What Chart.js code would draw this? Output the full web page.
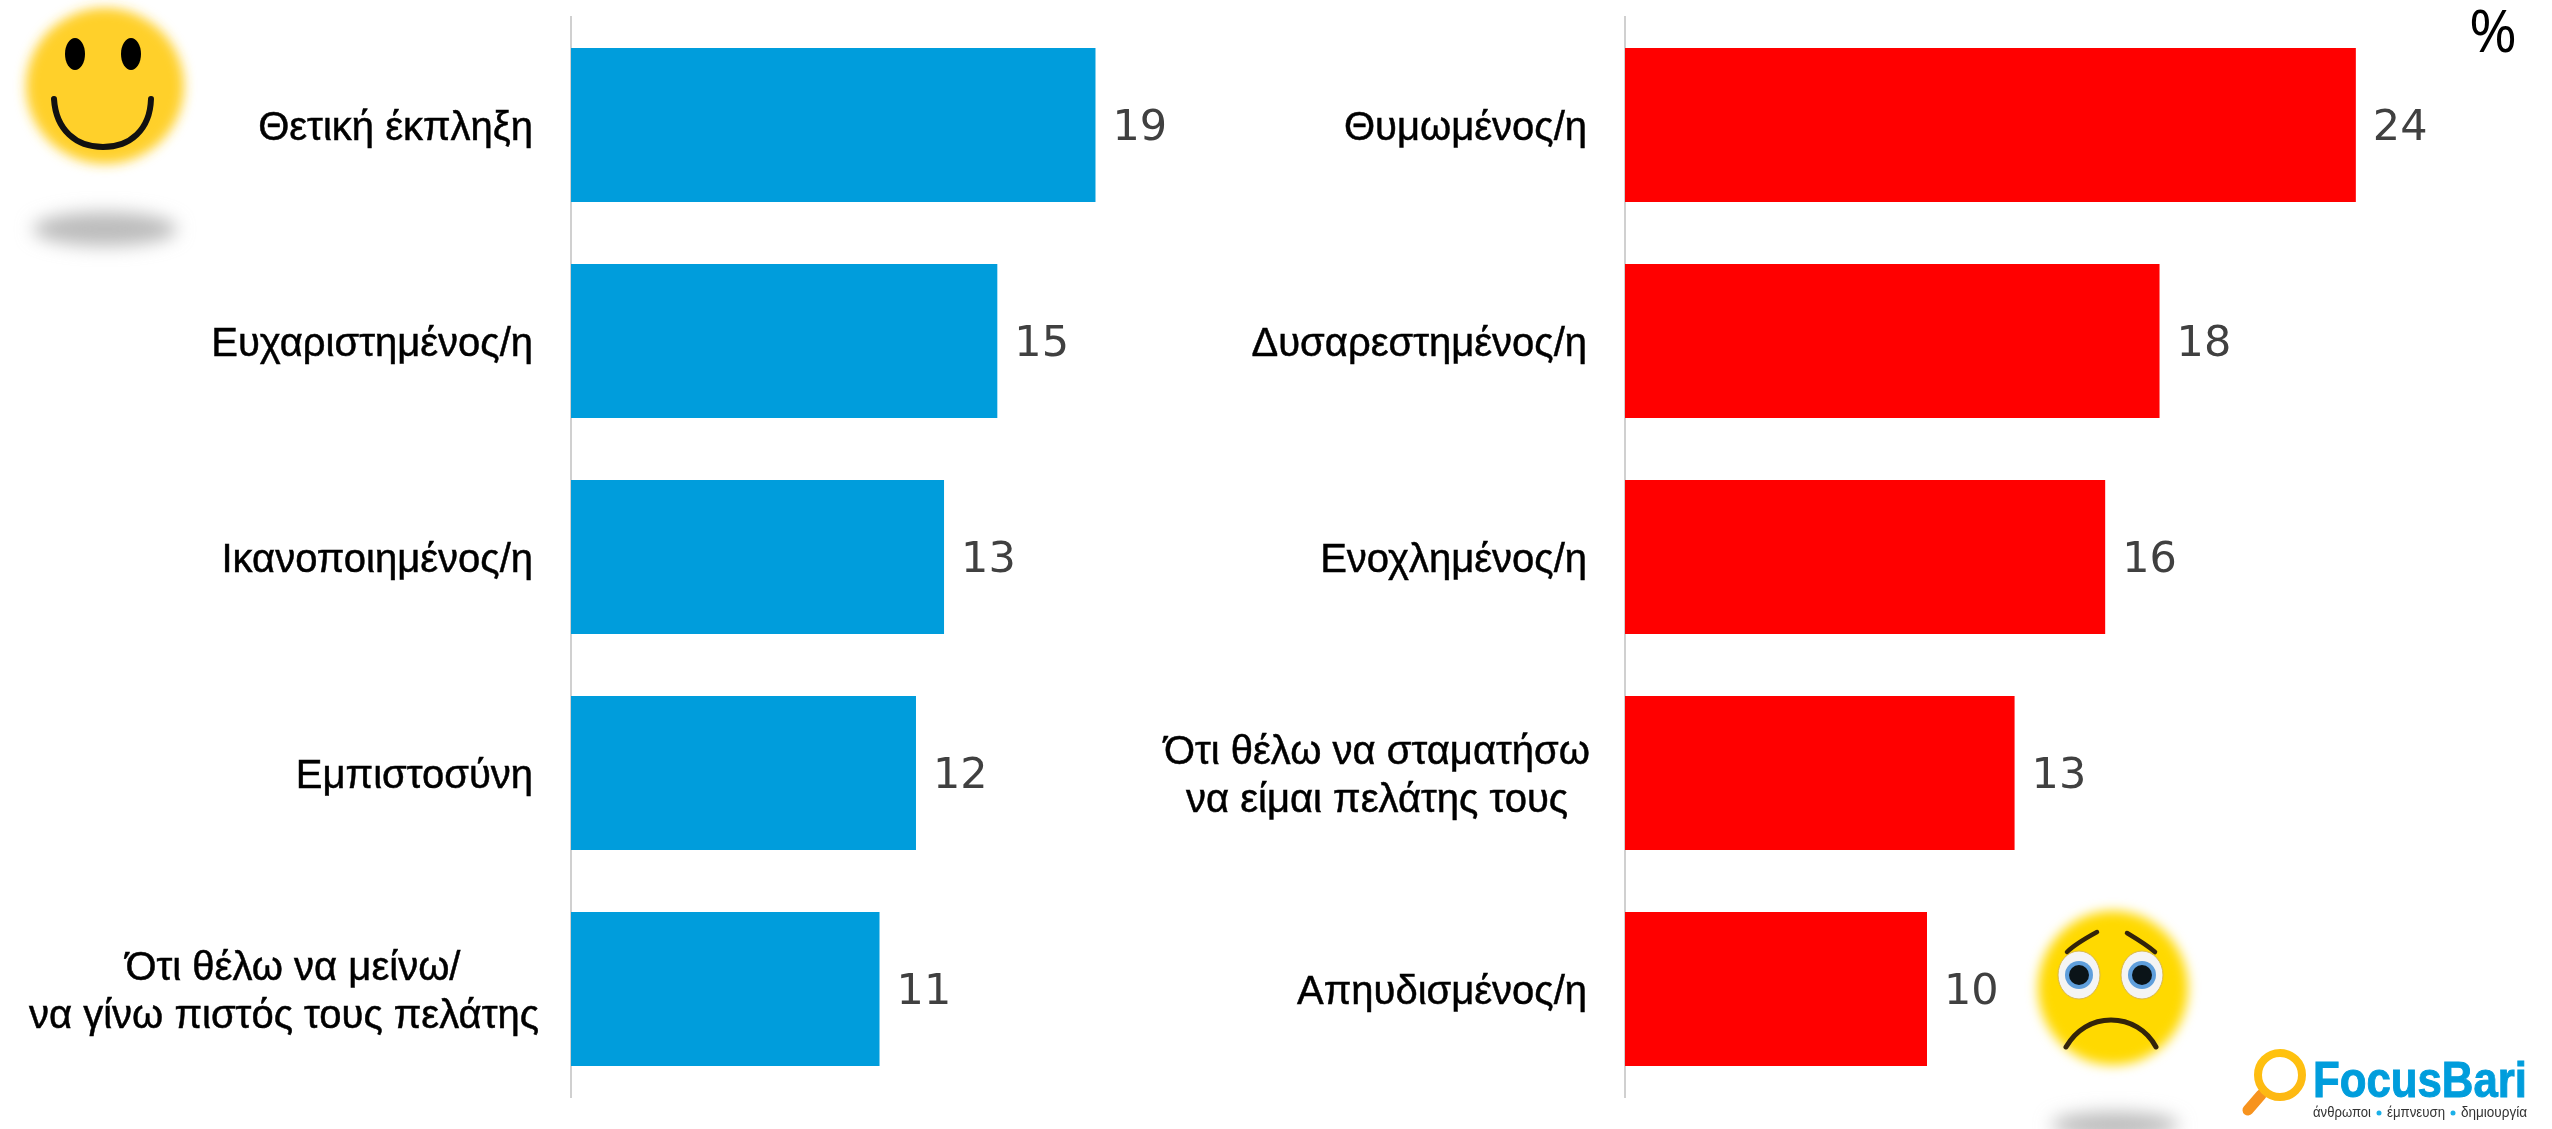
<!DOCTYPE html>
<html lang="el">
<head>
<meta charset="utf-8">
<title>FocusBari</title>
<script src="https://cdn.jsdelivr.net/npm/chart.js@4"></script>
<style>
  html, body { margin: 0; padding: 0; background: #fff; width: 2552px; height: 1129px; overflow: hidden; }
  canvas { position: absolute; top: 0; }
  #chartLeft { left: 0; }
  #chartRight { left: 1161px; }
  #percent { position: absolute; left: 2469px; top: -10px; font: 58px "Open Sans", sans-serif; color: #000; }
  svg { position: absolute; left: 0; top: 0; pointer-events: none; }
</style>
</head>
<body>
<canvas id="chartLeft" width="1190" height="1129" style="width:1190px;height:1129px"></canvas>
<canvas id="chartRight" width="1391" height="1129" style="width:1391px;height:1129px"></canvas>
<div id="percent">%</div>

<svg width="2552" height="1129" viewBox="0 0 2552 1129">
  <defs>
    <filter id="soft" x="-20%" y="-20%" width="140%" height="140%"><feGaussianBlur stdDeviation="6"/></filter>
    <filter id="shadow" x="-30%" y="-80%" width="160%" height="260%"><feGaussianBlur stdDeviation="9"/></filter>
    <linearGradient id="ringGrad" x1="0" y1="0" x2="0" y2="1">
      <stop offset="0" stop-color="#ffc20e"/><stop offset="1" stop-color="#fdb813"/>
    </linearGradient>
  </defs>

  <!-- smiley -->
  <ellipse cx="105" cy="229" rx="72" ry="17" fill="#bcbcbc" filter="url(#shadow)"/>
  <ellipse cx="105" cy="86" rx="79" ry="78" fill="#ffd02a" filter="url(#soft)"/>
  <ellipse cx="75" cy="54" rx="10" ry="16" fill="#000"/>
  <ellipse cx="131" cy="54" rx="10" ry="16" fill="#000"/>
  <path d="M54 99 C56 130 76 147 103 147 C130 147 150 130 151 99" fill="none" stroke="#111" stroke-width="6" stroke-linecap="round"/>

  <!-- sad face -->
  <ellipse cx="2115" cy="1125" rx="64" ry="13" fill="#bcbcbc" filter="url(#shadow)"/>
  <ellipse cx="2113" cy="988" rx="75" ry="77" fill="#ffd900" filter="url(#soft)"/>
  <ellipse cx="2079" cy="975" rx="21" ry="24" fill="#f4f4f4" stroke="#d9b84a"/>
  <ellipse cx="2142" cy="975" rx="21" ry="24" fill="#f4f4f4" stroke="#d9b84a"/>
  <circle cx="2079" cy="975" r="14" fill="#5f9fdc"/>
  <circle cx="2142" cy="975" r="14" fill="#5f9fdc"/>
  <circle cx="2079" cy="975" r="10" fill="#0b1418"/>
  <circle cx="2142" cy="975" r="10" fill="#0b1418"/>
  <path d="M2067 952 C2075 944 2086 938 2097 932 M2127 933 C2137 939 2147 945 2155 952" fill="none" stroke="#33240a" stroke-width="4.5" stroke-linecap="round"/>
  <path d="M2066 1047 C2076 1030 2092 1020 2111 1020 C2130 1020 2147 1030 2156 1047" fill="none" stroke="#33240a" stroke-width="5" stroke-linecap="round"/>

  <!-- logo -->
  <line x1="2261" y1="1095" x2="2248" y2="1110" stroke="#f7931e" stroke-width="11" stroke-linecap="round"/>
  <circle cx="2280" cy="1075" r="22" fill="none" stroke="url(#ringGrad)" stroke-width="8"/>
  <text x="2313" y="1097" font-family="Liberation Sans" font-weight="700" font-size="50" fill="#009ddc" stroke="#009ddc" stroke-width="1" textLength="214" lengthAdjust="spacingAndGlyphs">FocusBari</text>
  <text x="2313" y="1117" font-family="Liberation Sans" font-size="15" fill="#333" textLength="58" lengthAdjust="spacingAndGlyphs">άνθρωποι</text>
  <circle cx="2379" cy="1113" r="2.5" fill="#1cb0e8"/>
  <text x="2387" y="1117" font-family="Liberation Sans" font-size="15" fill="#333" textLength="58" lengthAdjust="spacingAndGlyphs">έμπνευση</text>
  <circle cx="2453" cy="1113" r="2.5" fill="#1cb0e8"/>
  <text x="2461" y="1117" font-family="Liberation Sans" font-size="15" fill="#333" textLength="66" lengthAdjust="spacingAndGlyphs">δημιουργία</text>
</svg>

<script>
const positiveLabels = [
  ["Θετική έκπληξη"],
  ["Ευχαριστημένος/η"],
  ["Ικανοποιημένος/η"],
  ["Εμπιστοσύνη"],
  ["Ότι θέλω να μείνω/", "να γίνω πιστός τους πελάτης"],
];
const positiveValues = [18.7, 15.2, 13.3, 12.3, 11.0];

const negativeLabels = [
  ["Θυμωμένος/η"],
  ["Δυσαρεστημένος/η"],
  ["Ενοχλημένος/η"],
  ["Ότι θέλω να σταματήσω", "να είμαι πελάτης τους"],
  ["Απηυδισμένος/η"],
];
const negativeValues = [24.2, 17.7, 15.9, 12.9, 10.0];

// category text: single lines end at the same x, wrapped ones are centred on each other
const categoryText = {
  id: "categoryText",
  afterDraw(chart, args, opts) {
    const { ctx } = chart;
    const yScale = chart.scales.y;
    const put = (text, x, y) => {
      ctx.fillText(text, x, y);
      ctx.strokeText(text, x, y); // reference text is a bit heavier than regular
    };
    ctx.save();
    ctx.font = '40px "Liberation Sans"';
    ctx.fillStyle = "#000";
    ctx.strokeStyle = "#000";
    ctx.lineWidth = 0.5;
    ctx.textBaseline = "middle";
    chart.data.labels.forEach((lines, i) => {
      const y = yScale.getPixelForTick(i) + 4;
      if (lines.length === 1) {
        ctx.textAlign = "right";
        put(lines[0], opts.right, y);
      } else {
        ctx.textAlign = "center";
        put(lines[0], opts.centers[0], y - 24);
        put(lines[1], opts.centers[1], y + 24);
      }
    });
    ctx.restore();
  },
};

// rounded number right after each bar
const valueText = {
  id: "valueText",
  afterDatasetsDraw(chart) {
    const { ctx } = chart;
    const meta = chart.getDatasetMeta(0);
    ctx.save();
    ctx.font = '43px "DejaVu Sans"';
    ctx.fillStyle = "#404040";
    ctx.textAlign = "left";
    ctx.textBaseline = "middle";
    meta.data.forEach((bar, i) => {
      ctx.fillText(Math.round(chart.data.datasets[0].data[i]), bar.x + 17, bar.y + 4);
    });
    ctx.restore();
  },
};

function drawChart(id, labels, values, color, xMax, plotLeft, plotRight, textPos) {
  return new Chart(document.getElementById(id), {
    type: "bar",
    data: {
      labels: labels,
      datasets: [{
        data: values,
        backgroundColor: color,
        categoryPercentage: 1,
        barPercentage: 0.713,
      }],
    },
    plugins: [categoryText, valueText],
    options: {
      indexAxis: "y",
      responsive: false,
      animation: false,
      layout: { padding: { left: plotLeft, top: 17, bottom: 32, right: plotRight } },
      plugins: {
        legend: { display: false },
        tooltip: { enabled: false },
        categoryText: textPos,
      },
      scales: {
        x: { display: false, min: 0, max: xMax },
        y: {
          afterFit(scale) { scale.width = 0; },
          grid: { display: false },
          ticks: { display: false },
          border: { display: true, color: "#d0d0d0", width: 2 },
        },
      },
    },
  });
}

drawChart("chartLeft", positiveLabels, positiveValues, "#009ddc", 21, 571, 30, { right: 533, centers: [293, 284] });
drawChart("chartRight", negativeLabels, negativeValues, "#ff0000", 30, 464, 21, { right: 426, centers: [216, 216] });
</script>
</body>
</html>
